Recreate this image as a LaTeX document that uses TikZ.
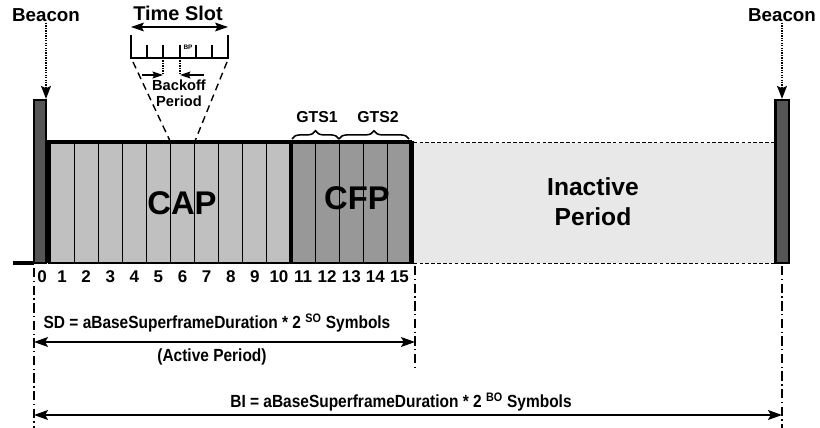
\documentclass[tikz,border=0pt]{standalone}
\usepackage{fontspec}
\setmainfont{Liberation Sans}
\newfontfamily\condfont[FakeStretch=0.88]{Liberation Sans}
\usepackage{xcolor}
\usepackage{tikz}
\usetikzlibrary{shapes, arrows.meta, decorations.pathreplacing}

\definecolor{beacongray}{HTML}{555555}
\definecolor{capgray}{HTML}{C0C0C0}
\definecolor{cfpgray}{HTML}{989898}
\definecolor{idlegray}{HTML}{E8E8E8}

\begin{document}
\begin{tikzpicture}[x=0.03cm, y=-0.03cm, >={Stealth[length=10pt, width=7pt, inset=2pt]}]
            \tikzstyle{beacon} = [draw, line width=2pt, fill=beacongray, minimum width=0.37cm, minimum height=4.89cm, inner sep=0pt]
            \tikzstyle{boldtxt} = [font=\bfseries\fontsize{16}{18}\selectfont, inner sep=1pt]
            \tikzstyle{numtxt} = [font=\bfseries\fontsize{14.5}{16}\selectfont, inner sep=0pt]
            \tikzstyle{bigtxt} = [font=\bfseries\fontsize{28}{30}\selectfont, inner sep=0pt]
            \tikzstyle{formula} = [font=\condfont\bfseries\fontsize{15}{17}\selectfont, inner sep=0pt]
            \tikzstyle{slotline} = [line width=1pt]
            \tikzstyle{thickline} = [line width=2.8pt]
            \tikzstyle{zoomline} = [line width=1.2pt, dash pattern=on 6pt off 4pt]
            \tikzstyle{guide} = [line width=0.9pt, dash pattern=on 8pt off 3pt on 1pt off 3pt]
            \tikzstyle{gtsbrace} = [decorate, decoration={brace, amplitude=7pt}, line width=1.3pt]

            \useasboundingbox (0,0) rectangle (820,428);

            % slots of the superframe
            \foreach \i in {1,...,10}
                \draw[slotline, fill=capgray] ({50+(\i-1)*24.1},142) rectangle ++(24.1,121);
            \foreach \i in {11,...,15}
                \draw[slotline, fill=cfpgray] ({50+(\i-1)*24.1},142) rectangle ++(24.1,121);
            \coordinate (top6) at ({50+5*24.1},142);
            \coordinate (top7) at ({50+6*24.1},142);

            \node[beacon] (beaconL) at (40,181.5) {};
            \draw[thickline] (48.5,263) -- (48.5,142) -- (411.5,142);
            \draw[thickline] (291,142) -- (291,263);
            \draw[line width=4.5pt] (411.5,140.6) -- (411.5,264);
            \draw[line width=1.2pt] (48,263) -- (411.5,263);
            \coordinate (base) at (13,263);
            \draw[line width=2.8pt] (base) -- (34,263);

            % inactive part
            \fill[idlegray] (413.7,143) rectangle (775,262.5);
            \draw[densely dashed, line width=0.8pt] (413.7,142) -- (775,142);
            \draw[densely dashed, line width=0.8pt] (413.7,263) -- (775,263);
            \node[beacon, minimum width=0.4cm] (beaconR) at (782,181.5) {};

            \node[bigtxt] (cap) at (182,203) {CAP};
            \node[bigtxt] (cfp) at (357,198) {CFP};
            \node[font=\bfseries\fontsize{21}{25.5}\selectfont, align=center] (inactive) at (593,202) {Inactive\\Period};

            % slot numbers
            \node[numtxt] (n0) at (42,277) {0};
            \foreach \i in {1,...,15}
                \node[numtxt] (n\i) at ({50+(\i-0.5)*24.1},277) {\i};

            % beacons
            \node[boldtxt] (beaconLtxt) at (46,15) {Beacon};
            \node[boldtxt] (beaconRtxt) at (782,15) {Beacon};
            \draw[->, densely dotted, line width=1.1pt, >={Stealth[length=11pt, width=8.5pt, inset=2pt]}] (beaconLtxt.south) -- (beaconLtxt.south |- beaconL.north);
            \draw[->, densely dotted, line width=1.1pt, >={Stealth[length=11pt, width=8.5pt, inset=2pt]}] (beaconRtxt.south) -- (beaconRtxt.south |- beaconR.north);

            % GTS
            \draw[gtsbrace] (292,139) -- (339,139);
            \draw[gtsbrace] (339,139) -- (409,139);
            \node[boldtxt, font=\bfseries\fontsize{13.5}{15}\selectfont] (gts1) at (317,117) {GTS1};
            \node[boldtxt, font=\bfseries\fontsize{13.5}{15}\selectfont] (gts2) at (378,117) {GTS2};

            % time slot in detail
            \node[boldtxt, font=\bfseries\fontsize{17}{19}\selectfont] (slottxt) at (178,13) {Time Slot};
            \coordinate (tsL) at (131,27);
            \coordinate (tsR) at (228,27);
            \draw[<->, line width=1.2pt, >={Stealth[length=11pt, width=7.5pt, inset=2pt]}] (tsL) -- (tsR);
            \coordinate (rulerL) at (131,58);
            \coordinate (rulerR) at (228,58);
            \draw[line width=1.1pt] (131,35) -- (rulerL) -- (rulerR) -- (228,35);
            \foreach \x in {147,163,180,196,212}
                \draw[line width=1.1pt] (\x,45) -- (\x,58);
            \node[font=\bfseries\fontsize{5.5}{6}\selectfont, inner sep=0pt] (bp) at (188,47) {BP};
            \draw[densely dotted, line width=1.1pt] (163,58) -- (163,74);
            \draw[densely dotted, line width=1.1pt] (180,58) -- (180,74);
            \coordinate (boL) at (142,75);
            \coordinate (boR) at (204,75);
            \draw[->, line width=1.1pt, >={Stealth[length=9pt, width=6pt, inset=1.5pt]}] (boL) -- (163,75);
            \draw[->, line width=1.1pt, >={Stealth[length=9pt, width=6pt, inset=1.5pt]}] (boR) -- (180,75);
            \node[font=\bfseries\fontsize{12.5}{13.5}\selectfont, align=center, inner sep=0pt] (backoff) at (179,93) {Backoff\\Period};
            \draw[zoomline] (133,62) -- (top6);
            \draw[zoomline] (227,62) -- (top7);

            % durations
            \draw[guide] (34,268) -- (34,428);
            \draw[guide] (415,266) -- (415,368);
            \draw[guide] (782,266) -- (782,428);
            \coordinate (sdL) at (34,342);
            \coordinate (sdR) at (415,342);
            \coordinate (biL) at (34,415);
            \coordinate (biR) at (782,415);
            \draw[<->, line width=1.3pt, >={Stealth[length=12pt, width=8.5pt, inset=2.5pt]}] (sdL) -- (sdR);
            \draw[<->, line width=1.3pt, >={Stealth[length=12pt, width=8.5pt, inset=2.5pt]}] (biL) -- (biR);
            \node[formula] (sd) at (217,323) {SD = aBaseSuperframeDuration * 2 \textsuperscript{SO} Symbols};
            \node[formula] (active) at (212,357) {(Active Period)};
            \node[formula] (bi) at (401,402) {BI = aBaseSuperframeDuration * 2 \textsuperscript{BO} Symbols};
\end{tikzpicture}
\end{document}
